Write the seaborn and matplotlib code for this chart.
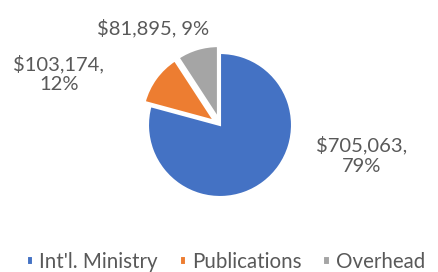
import matplotlib
matplotlib.use("Agg")
import matplotlib.pyplot as plt
import seaborn as sns



# Data
categories = ["Int'l. Ministry", "Publications", "Overhead"]
amounts = [705063, 103174, 81895]
label_texts = ["$705,063,\n79%", "$103,174,\n12%", "$81,895, 9%"]
colors = ["#4472C4", "#ED7D31", "#A5A5A5"]



sns.set_theme(style="white")
plt.rcParams['font.family'] = ['Lato', 'DejaVu Sans']



# Figure with a full-size axes, 1 data unit = pie radius (72 px)
fig = plt.figure(figsize=(4.39, 2.72), dpi=100)
ax = fig.add_axes([0, 0, 1, 1])

wedges, _ = ax.pie(
    amounts,
    colors=colors,
    startangle=90,
    counterclock=False,
    explode=[0, 0.1, 0.1],
    radius=1,
    wedgeprops=dict(edgecolor="white", linewidth=1.5)
)

ax.set_xlim(-220 / 72, 219 / 72)
ax.set_ylim(-147 / 72, 125 / 72)
ax.set_aspect('auto')
ax.axis('off')



# Data labels placed like the Excel chart
label_pos = [(1.97, -0.42), (-2.24, 0.71), (-0.93, 1.35)]
for txt, (x, y) in zip(label_texts, label_pos):
    ax.text(x, y, txt, ha="center", va="center", fontsize=14.5,
            color="#595959", linespacing=1.25)



# Legend along the bottom
ax.legend(
    wedges,
    categories,
    loc="center",
    bbox_to_anchor=(0.515, 0.037),
    ncol=3,
    frameon=False,
    fontsize=14.8,
    handlelength=0.32,
    handleheight=0.32,
    handletextpad=0.3,
    columnspacing=1.05,
    borderpad=0,
    borderaxespad=0,
    labelcolor="#595959"
)

fig.savefig("out.png", dpi=100)
